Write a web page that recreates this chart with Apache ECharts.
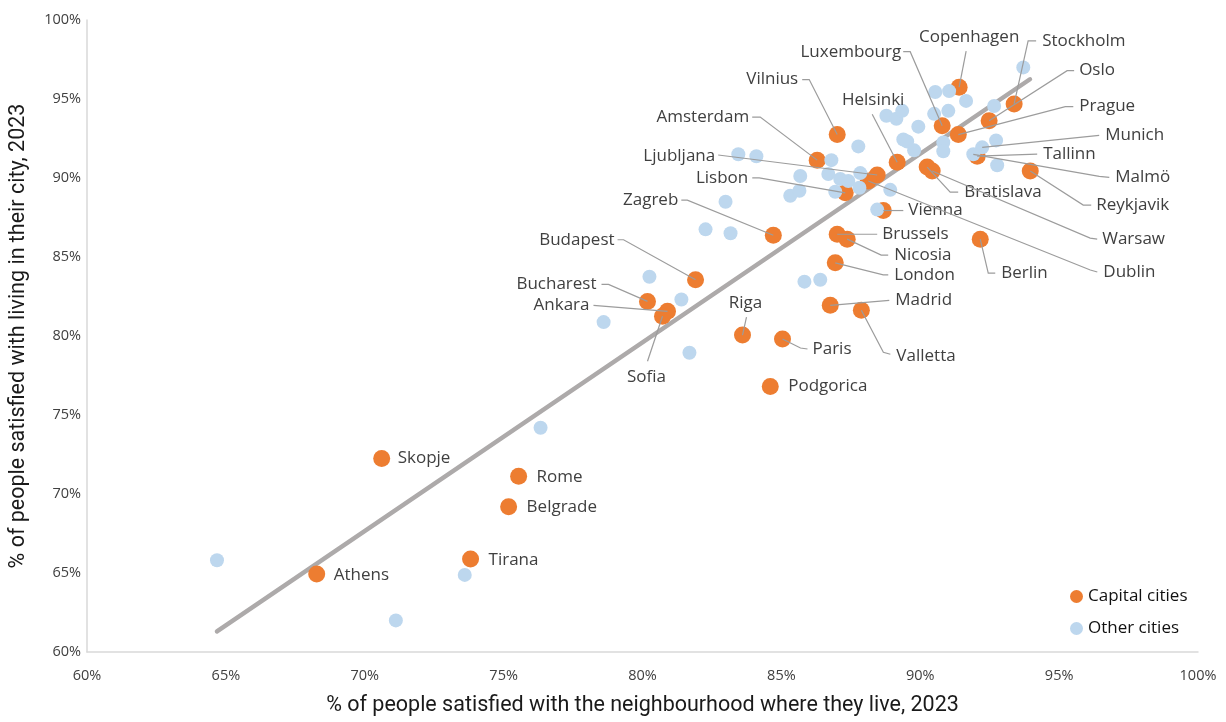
<!DOCTYPE html>
<html><head><meta charset="utf-8">
<script src="https://cdn.jsdelivr.net/npm/echarts/dist/echarts.min.js"></script>
<style>html,body{margin:0;padding:0;background:#fff}#c{width:1226px;height:722px}</style>
</head><body><div id="c"></div>
<script>
// ---- data ----
const capNames = ['Copenhagen','Stockholm','Oslo','Prague','Luxembourg','Helsinki','Tallinn','Reykjavik','Bratislava','Warsaw','Vienna','Ljubljana','Dublin','Lisbon','Amsterdam','Vilnius','Zagreb','Brussels','Nicosia','London','Madrid','Valletta','Budapest','Bucharest','Ankara','Sofia','Riga','Paris','Podgorica','Berlin','Skopje','Rome','Belgrade','Tirana','Athens'];
const capX = [91.40,93.38,92.48,91.37,90.79,89.17,92.05,93.96,90.25,90.43,88.67,88.45,88.13,87.30,86.29,87.01,84.71,87.01,87.37,86.94,86.76,87.88,81.91,80.18,80.90,80.72,83.60,85.04,84.60,92.16,70.61,75.54,75.18,73.81,68.27];
const capY = [95.75,94.69,93.63,92.75,93.31,91.00,91.38,90.44,90.69,90.44,87.94,90.19,89.81,89.06,91.13,92.75,86.38,86.44,86.13,84.63,81.94,81.63,83.56,82.19,81.56,81.25,80.06,79.81,76.81,86.13,72.25,71.13,69.19,65.88,64.94];

const othNames = ['','','','','','','','','','','','','','','','','','','','Munich','','Malmö','','','','','','','','','','','','','','','','','','','','','','','','','',''];
const othX = [93.71,90.54,91.04,91.65,92.66,88.78,89.14,89.35,90.50,91.01,89.93,89.39,89.53,87.77,89.78,90.83,90.83,86.80,87.84,92.23,92.73,91.91,92.77,83.45,84.10,85.68,86.69,87.12,87.41,85.32,85.65,86.94,87.81,88.92,82.99,88.45,82.27,83.17,85.83,86.40,80.25,81.40,78.60,81.69,76.33,64.68,73.60,71.12];
const othY = [97.00,95.44,95.50,94.88,94.56,93.94,93.75,94.25,94.06,94.25,93.25,92.44,92.31,92.00,91.75,92.25,91.69,91.13,90.31,91.94,92.38,91.50,90.81,91.50,91.38,90.13,90.25,89.94,89.81,88.88,89.19,89.13,89.38,89.25,88.50,88.00,86.75,86.50,83.44,83.56,83.75,82.31,80.88,78.94,74.19,65.81,64.88,62.00];

const trendX = [64.68, 93.95];
const trendY = [61.30, 96.25];

const axisTicks = [60, 65, 70, 75, 80, 85, 90, 95, 100];
const xTitle = '% of people satisfied with the neighbourhood where they live, 2023';
const yTitle = '% of people satisfied with living in their city, 2023';
const legendNames = ['Capital cities', 'Other cities'];

// ---- label layout (pixel offsets from the dot) ----
const labelSpecs = [
  {n:'Copenhagen', t:[10,-50], al:'center', p:[[7,-36]]},
  {n:'Stockholm', t:[28,-63], al:'left', p:[[22,-63],[14,-63]]},
  {n:'Oslo', t:[90,-50], al:'left', p:[[85,-50],[78,-50]]},
  {n:'Prague', t:[121,-28], al:'left', p:[[115,-28],[107,-28]]},
  {n:'Luxembourg', t:[-41,-74], al:'right', p:[[-39,-74],[-32,-74]]},
  {n:'Helsinki', t:[-24,-62], al:'center', p:[[-25,-48]]},
  {n:'Tallinn', t:[66,-2], al:'left', p:[[60,-2]]},
  {n:'Reykjavik', t:[66,34], al:'left', p:[[61,34],[53,34]]},
  {n:'Bratislava', t:[37,25], al:'left', p:[[31,25],[23,25]]},
  {n:'Warsaw', t:[170,68], al:'left', p:[[165,68],[158,67]]},
  {n:'Vienna', t:[25,0], al:'left', p:[[20,0]]},
  {n:'Ljubljana', t:[-162,-19], al:'right', p:[[-159,-20]]},
  {n:'Dublin', t:[235,91], al:'left', p:[[229,91],[222,89]]},
  {n:'Lisbon', t:[-97,-15], al:'right', p:[[-93,-15],[-86,-15]]},
  {n:'Amsterdam', t:[-68,-43], al:'right', p:[[-65,-43],[-57,-43]]},
  {n:'Vilnius', t:[-39,-55], al:'right', p:[[-35,-55],[-28,-55]]},
  {n:'Zagreb', t:[-95,-35], al:'right', p:[[-92,-35],[-86,-35]]},
  {n:'Brussels', t:[45,0], al:'left', p:[[40,0]]},
  {n:'Nicosia', t:[47,16], al:'left', p:[[41,16],[34,16]]},
  {n:'London', t:[59,12], al:'left', p:[[53,12],[48,12]]},
  {n:'Madrid', t:[65,-5], al:'left', p:[[59,-5]]},
  {n:'Valletta', t:[35,46], al:'left', p:[[29,44],[22,42]]},
  {n:'Budapest', t:[-81,-40], al:'right', p:[[-78,-40],[-72,-40]]},
  {n:'Bucharest', t:[-51,-17], al:'right', p:[[-46,-17],[-39,-17]]},
  {n:'Ankara', t:[-78,-6], al:'right', p:[[-74,-6]]},
  {n:'Sofia', t:[-16,61], al:'center', p:[[-15,45]]},
  {n:'Riga', t:[3,-32], al:'center', p:[[4,-18]]},
  {n:'Paris', t:[30,10], al:'left', p:[[25,10],[18,9]]},
  {n:'Podgorica', t:[18,0], al:'left', p:[]},
  {n:'Berlin', t:[21,34], al:'left', p:[[15,34],[8,34]]},
  {n:'Skopje', t:[16,0], al:'left', p:[]},
  {n:'Rome', t:[18,1], al:'left', p:[]},
  {n:'Belgrade', t:[18,0], al:'left', p:[]},
  {n:'Tirana', t:[18,1], al:'left', p:[]},
  {n:'Athens', t:[17,1], al:'left', p:[]},
  {n:'Munich', t:[123,-12], al:'left', p:[[117,-12]]},
  {n:'Malmö', t:[142,23], al:'left', p:[[136,23],[126,22]]}
];

const capData = capX.map((x, i) => [x, capY[i]]);
const othData = othX.map((x, i) => [x, othY[i]]);
const labelData = labelSpecs.map((s, k) => {
  let i = capNames.indexOf(s.n);
  if (i >= 0) return [capX[i], capY[i], k];
  i = othNames.indexOf(s.n);
  return [othX[i], othY[i], k];
});

const FONT = '"Open Sans", "Noto Sans", sans-serif';
const chart = echarts.init(document.getElementById('c'), null, {renderer: 'canvas'});
const axisCommon = {
  type: 'value',
  min: axisTicks[0], max: axisTicks[axisTicks.length - 1], interval: axisTicks[1] - axisTicks[0],
  axisLine: {show: true, onZero: false, lineStyle: {color: '#D9D9D9', width: 1.5}},
  axisTick: {show: false},
  splitLine: {show: false},
  nameLocation: 'middle',
  nameTextStyle: {fontSize: 21.5, color: '#1a1a1a', fontFamily: 'Roboto'}
};
chart.setOption({
  animation: false,
  backgroundColor: '#fff',
  grid: {left: 86, right: 28, top: 20, bottom: 62, containLabel: false},
  xAxis: Object.assign({}, axisCommon, {
    name: xTitle, nameGap: 43,
    axisLabel: {formatter: '{value}%', color: '#404040', fontSize: 14.5, margin: 16, fontFamily: FONT}
  }),
  yAxis: Object.assign({}, axisCommon, {
    name: yTitle, nameGap: 57,
    axisLabel: {formatter: '{value}%', color: '#404040', fontSize: 14.5, margin: 6, fontFamily: FONT}
  }),
  legend: {
    orient: 'vertical', left: 1065, top: 583, itemWidth: 13, itemHeight: 13, itemGap: 15,
    icon: 'circle', data: legendNames,
    textStyle: {fontSize: 17, color: '#111', fontFamily: FONT, padding: [0, 0, 0, 0]}
  },
  series: [
    {
      name: 'Trend', type: 'line', z: 1, silent: true, symbol: 'none',
      data: [[trendX[0], trendY[0]], [trendX[1], trendY[1]]],
      lineStyle: {color: '#ADAAAA', width: 4.5, cap: 'round'}
    },
    {
      name: legendNames[0], type: 'scatter', z: 2, symbolSize: 17, data: capData,
      itemStyle: {color: '#ED7D31', opacity: 1}
    },
    {
      name: legendNames[1], type: 'scatter', z: 3, symbolSize: 14, data: othData,
      itemStyle: {color: '#BDD7EE', opacity: 1}
    },
    {
      name: 'labels', type: 'custom', z: 4, silent: true, clip: false,
      dimensions: ['x', 'y', 'k'], encode: {x: 0, y: 1},
      data: labelData,
      renderItem: function (params, api) {
        const s = labelSpecs[api.value(2)];
        const p = api.coord([api.value(0), api.value(1)]);
        const children = [];
        if (s.p.length) {
          const pts = s.p.map(o => [p[0] + o[0], p[1] + o[1]]);
          pts.push([p[0], p[1]]);
          children.push({type: 'polyline', shape: {points: pts},
            style: {stroke: '#9C9C9C', lineWidth: 1.2, fill: null}});
        }
        children.push({type: 'text', style: {
          text: s.n, x: p[0] + s.t[0], y: p[1] + s.t[1], align: s.al, verticalAlign: 'middle',
          fill: '#404040', fontSize: 17, fontFamily: FONT}});
        return {type: 'group', children: children};
      }
    }
  ]
});
</script></body></html>
